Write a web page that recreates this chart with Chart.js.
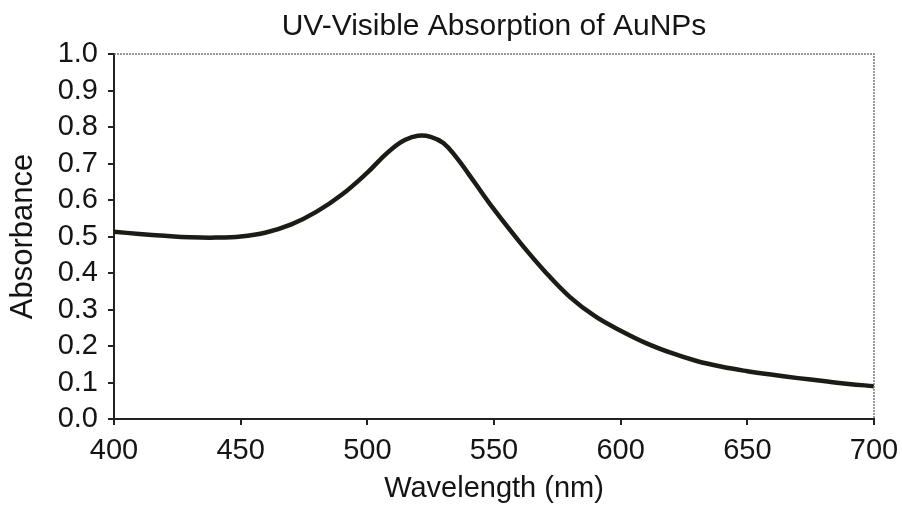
<!DOCTYPE html>
<html>
<head>
<meta charset="utf-8">
<script src="https://cdn.jsdelivr.net/npm/chart.js@4"></script>
<style>
  html, body { margin: 0; padding: 0; background: #fff; }
  canvas { display: block; }
</style>
</head>
<body>
<canvas id="uvChart" width="902" height="506"></canvas>
<script>
// wavelength (nm) and absorbance
const wavelengths = [400, 410, 420, 430, 440, 450, 460, 470, 480, 490, 500, 505, 510, 515, 520, 525, 530, 535, 540, 545, 550, 560, 570, 580, 590, 600, 610, 620, 630, 640, 650, 660, 670, 680, 690, 700];
const absorbance = [0.513, 0.507, 0.502, 0.498, 0.497, 0.500, 0.511, 0.533, 0.568, 0.615, 0.675, 0.710, 0.742, 0.765, 0.776, 0.773, 0.756, 0.718, 0.671, 0.622, 0.574, 0.486, 0.405, 0.334, 0.281, 0.242, 0.208, 0.181, 0.159, 0.143, 0.131, 0.121, 0.112, 0.104, 0.096, 0.090];

const xTicks = [400, 450, 500, 550, 600, 650, 700];
const yTicks = [0.0, 0.1, 0.2, 0.3, 0.4, 0.5, 0.6, 0.7, 0.8, 0.9, 1.0];

const fontFamily = '"Liberation Sans", Arial, Helvetica, sans-serif';
const textColor = '#141414';

// dotted frame on the top and right side of the plot
const framePlugin = {
    id: 'frame',
    afterDraw(chart) {
        const { ctx, chartArea: a } = chart;
        ctx.save();
        ctx.strokeStyle = '#7a7a74';
        ctx.lineWidth = 1.5;
        ctx.setLineDash([2, 1]);
        ctx.beginPath();
        ctx.moveTo(a.left, a.top);
        ctx.lineTo(a.right, a.top);
        ctx.lineTo(a.right, a.bottom);
        ctx.stroke();
        ctx.restore();
    }
};

const ctx = document.getElementById('uvChart').getContext('2d');
const chart = new Chart(ctx, {
    type: 'line',
    data: {
        datasets: [{
            label: 'Absorbance',
            data: wavelengths.map((w, i) => ({ x: w, y: absorbance[i] })),
            borderColor: '#1c1c16',
            borderWidth: 4.5,
            pointRadius: 0,
            tension: 0.4,
            fill: false
        }]
    },
    options: {
        responsive: false,
        devicePixelRatio: 1,
        animation: false,
        layout: { padding: { top: 0, right: 28, bottom: 0, left: 0 } },
        plugins: {
            legend: { display: false },
            tooltip: { enabled: false },
            title: {
                display: true,
                fullSize: false,
                text: 'UV-Visible Absorption of AuNPs',
                color: textColor,
                font: { family: fontFamily, size: 30, weight: 'normal' },
                padding: { top: 9, bottom: 9 }
            }
        },
        scales: {
            x: {
                type: 'linear',
                min: 400,
                max: 700,
                afterBuildTicks: s => { s.ticks = xTicks.map(v => ({ value: v })); },
                afterFit: s => { s.height = 87; s.paddingLeft = 0; s.paddingRight = 0; },
                ticks: {
                    color: textColor,
                    font: { family: fontFamily, size: 29 },
                    padding: 9,
                    maxRotation: 0,
                    autoSkip: false
                },
                grid: { display: true, drawOnChartArea: false, drawTicks: true, tickLength: 6, color: '#222', lineWidth: 2 },
                border: { display: true, color: '#222', width: 2 },
                title: {
                    display: true,
                    text: 'Wavelength (nm)',
                    color: textColor,
                    font: { family: fontFamily, size: 29 },
                    padding: { top: 0, bottom: 0 }
                }
            },
            y: {
                min: 0,
                max: 1,
                afterBuildTicks: s => { s.ticks = yTicks.map(v => ({ value: v })); },
                afterFit: s => { s.width = 114; },
                ticks: {
                    color: textColor,
                    font: { family: fontFamily, size: 29 },
                    padding: 10,
                    autoSkip: false,
                    callback: v => Number(v).toFixed(1)
                },
                grid: { display: true, drawOnChartArea: false, drawTicks: true, tickLength: 6, color: '#222', lineWidth: 2 },
                border: { display: true, color: '#222', width: 2 },
                title: {
                    display: true,
                    text: 'Absorbance',
                    color: textColor,
                    font: { family: fontFamily, size: 31 },
                    padding: { top: 5, bottom: 0 }
                }
            }
        }
    },
    plugins: [framePlugin]
});
</script>
</body>
</html>
